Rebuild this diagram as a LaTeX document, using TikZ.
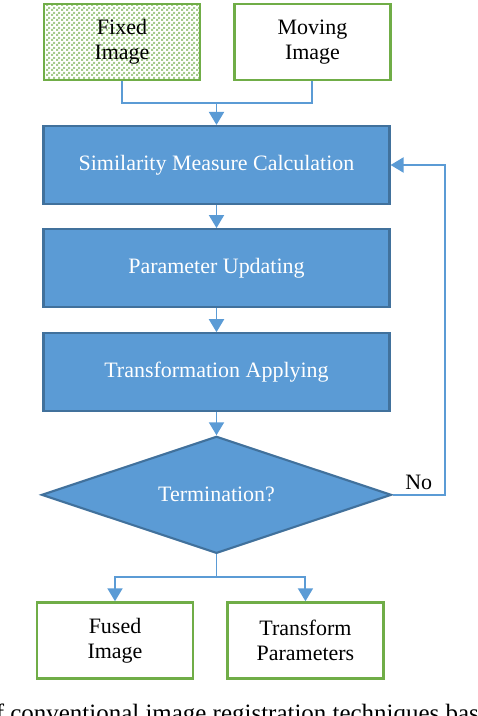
\documentclass[tikz,border=0pt]{standalone}
\usepackage{fontspec}
\setmainfont{Liberation Serif}
\usetikzlibrary{positioning,arrows.meta,shapes.geometric,patterns}

\definecolor{stepblue}{HTML}{5B9BD5}
\definecolor{stepedge}{HTML}{41719C}
\definecolor{ioGreen}{HTML}{70AD47}

% small green checker for the fixed image
\pgfdeclarepatternformonly{finechecker}{\pgfpointorigin}{\pgfqpoint{2.6pt}{2.6pt}}{\pgfqpoint{2.6pt}{2.6pt}}{%
  \pgfpathrectangle{\pgfpointorigin}{\pgfqpoint{1.3pt}{1.3pt}}%
  \pgfpathrectangle{\pgfqpoint{1.3pt}{1.3pt}}{\pgfqpoint{1.3pt}{1.3pt}}%
  \pgfusepath{fill}}

\tikzset{
  procbox/.style={draw=stepedge, line width=1.2pt, fill=stepblue, text=white, minimum width=6.92cm, minimum height=1.56cm},
  iobox/.style={draw=ioGreen, line width=1.4pt, align=center, minimum width=3.12cm, minimum height=1.52cm},
  decision/.style={diamond, draw=stepedge, line width=1.2pt, fill=stepblue, text=white, minimum width=7cm, minimum height=2.34cm, inner sep=0pt, aspect=2.99},
  flowline/.style={draw=stepblue, line width=1.1pt},
  flowarrow/.style={flowline, -{Triangle[width=0.3cm,length=0.26cm]}},
}

\begin{document}
\begin{tikzpicture}[every node/.style={font=\fontsize{12.5}{14.2}\selectfont}]
    \useasboundingbox (0,0) rectangle (9.56,-14.32);
    % inputs
    \node[iobox, pattern=finechecker, pattern color=ioGreen!62] (fixed) at (2.44,-0.84) {Fixed\\Image};
    \node[iobox, right=0.64cm of fixed] (moving) {Moving\\Image};
    % main loop
    \node[procbox] (sim) at (4.33,-3.3) {Similarity Measure Calculation};
    \node[procbox, below=0.46cm of sim] (param) {Parameter Updating};
    \node[procbox, below=0.48cm of param] (trans) {Transformation Applying};
    \node[decision, below=0.46cm of trans] (term) {Termination?};
    % outputs
    \node[iobox] (fused) at (2.3,-12.81) {Fused\\Image};
    \node[iobox, right=0.64cm of fused] (tparam) {Transform\\Parameters};
    \coordinate (merge) at (sim.north |- 0,-2.06);
    \coordinate (split) at (term.south |- 0,-11.54);
    \coordinate[right=1.04cm of term.east] (turn);
    \node[inner sep=0pt, above left=0.1cm and 0.24cm of turn] (nolabel) {No};
    \draw[flowline] (fixed.south) |- (merge) -| (moving.south);
    \draw[flowarrow] (merge) -- (sim.north);
    \draw[flowarrow] (sim) -- (param);
    \draw[flowarrow] (param) -- (trans);
    \draw[flowarrow] (trans) -- (term);
    \draw[flowarrow] (term.east) -- (turn) |- (sim.east);
    \draw[flowline] (term.south) -- (split);
    \draw[flowarrow] (split) -| (fused.north);
    \draw[flowarrow] (split) -| (tparam.north);
    % caption, cut by the page edge
    \node[anchor=base west, inner sep=0pt, font=\fontsize{14.2}{17}\selectfont] (caption) at (-0.34,-14.42) {of conventional image registration techniques based on};
\end{tikzpicture}
\end{document}
